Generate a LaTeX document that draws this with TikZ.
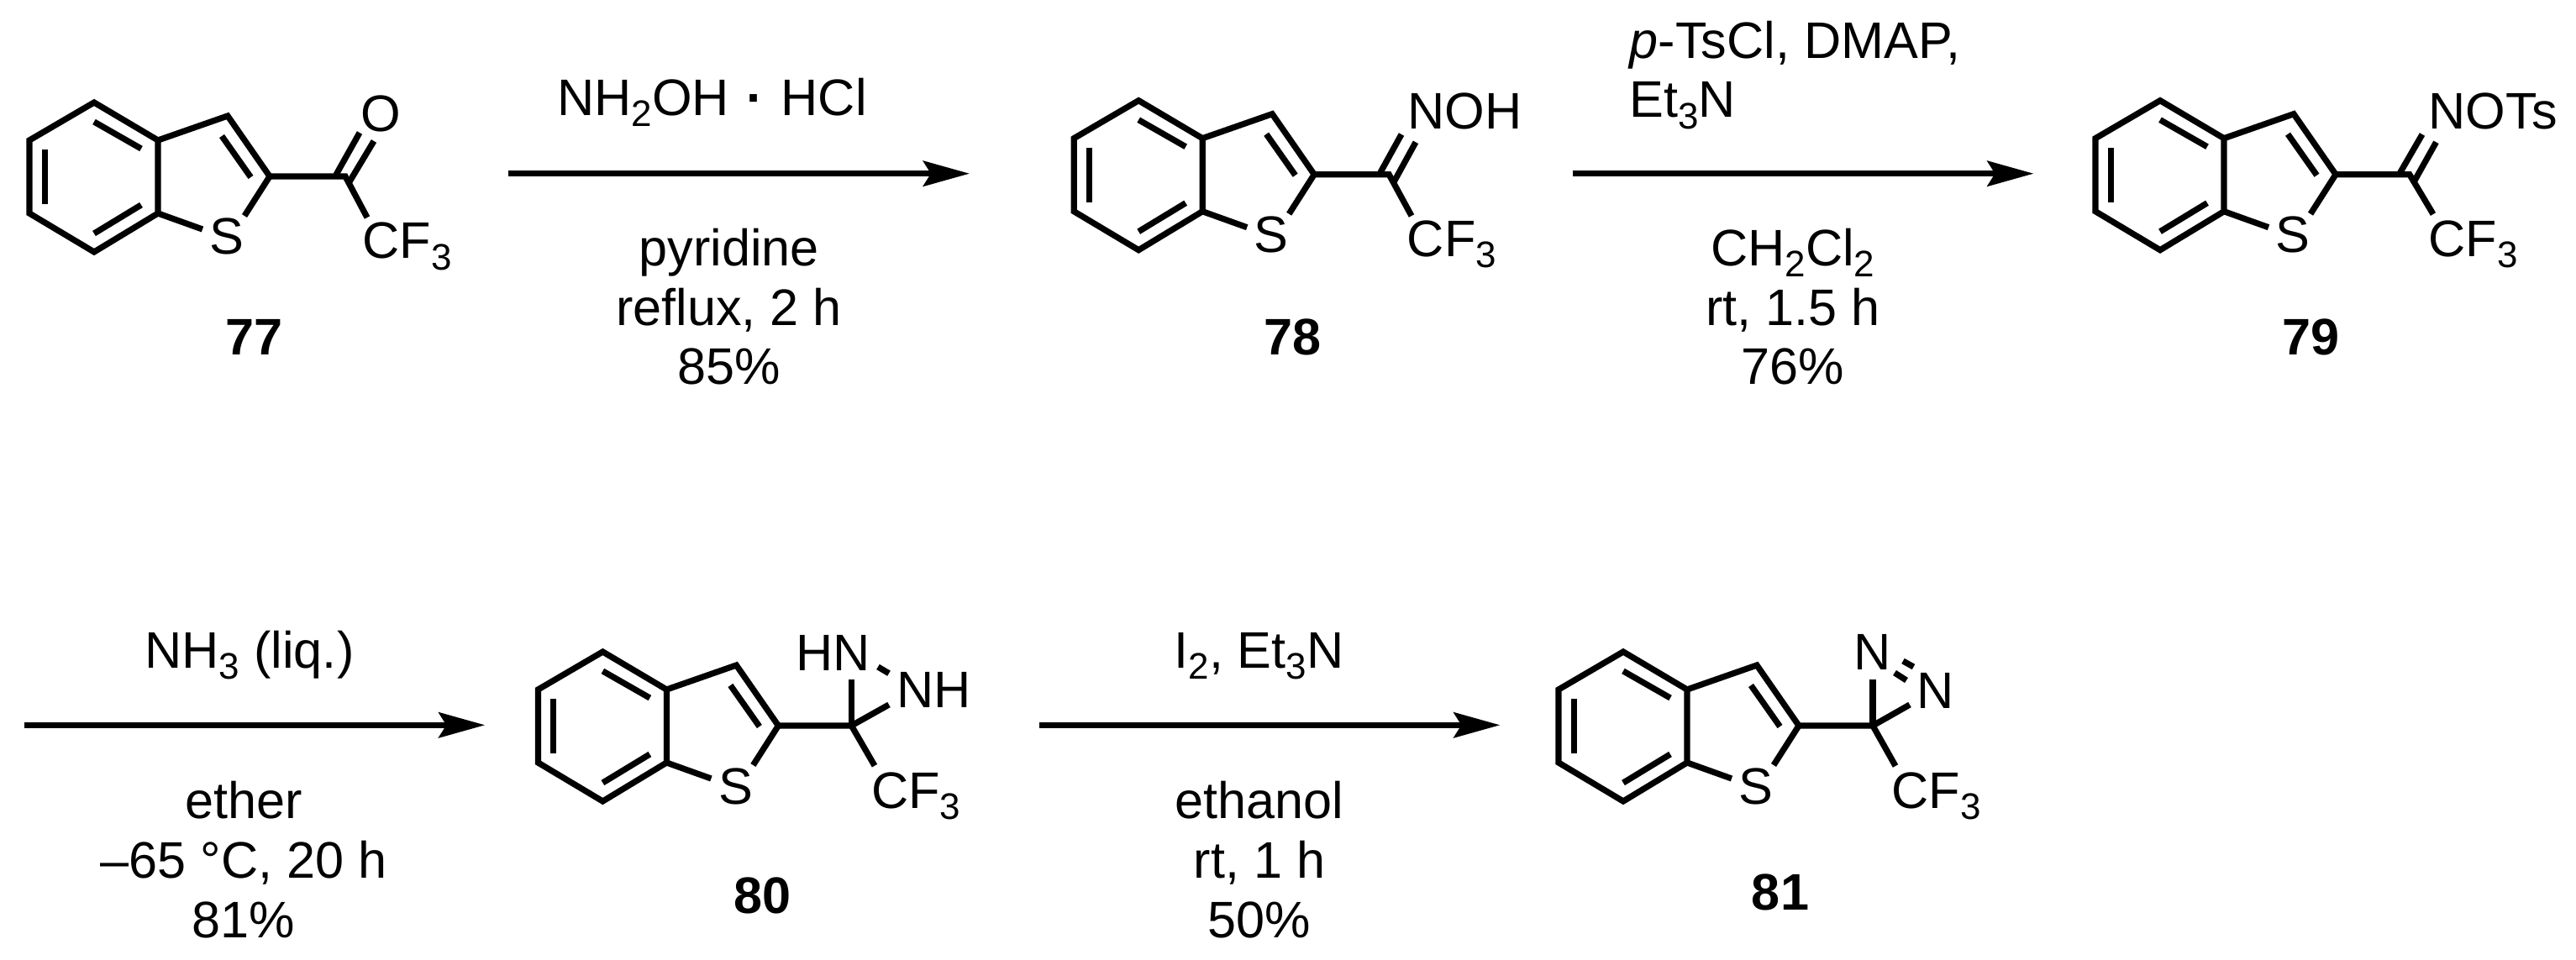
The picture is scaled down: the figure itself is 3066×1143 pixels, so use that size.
\documentclass[tikz,border=0pt]{standalone}
\usepackage{fontspec}
\setmainfont{Liberation Sans}
\usetikzlibrary{arrows.meta}
\tikzset{
	bond/.style={line width=2.05pt, line join=miter},
	rxn/.style={line width=2.1pt, -{Stealth[length=0.55cm, width=0.3cm, inset=0.09cm]}},
	atom/.style={inner sep=0pt, anchor=base},
	tag/.style={inner sep=0pt, anchor=base, font=\fontsize{17.4}{20}\selectfont\bfseries},
	cond/.style={inner sep=0pt, anchor=base, align=center}
}
\newcommand{\lowidx}[1]{\raisebox{-3.7pt}{\fontsize{12.5}{12.5}\selectfont #1}}
\def\thienyl(#1,#2)#3{
	\begin{scope}[shift={(#1,#2)}]
		\draw[bond] (-133,-43) -- (-209,-88) -- (-286,-43) -- (-286,44) -- (-209,90) -- (-133,44) -- cycle;
		\draw[bond] (-133,-43) -- (-50,-72) -- (0,0) -- (-30,47);
		\draw[bond] (-133,44) -- (-80,63);
		\draw[bond] (-267.6,-32) -- (-267.6,33);
		\draw[bond] (-209,-65) -- (-153,-33);
		\draw[bond] (-209,68) -- (-153,34);
		\draw[bond] (-57,-48) -- (-22.5,1);
		\node[atom] (#3S) at (-51,93) {S};
		\node[atom, anchor=base west] (#3CF) at (110,98) {CF\lowidx{3}};
	\end{scope}
}
\begin{document}
\begin{tikzpicture}[x=0.01cm, y=-0.01cm, font=\fontsize{17.4}{20.06}\selectfont]
			%%%%% START %%%%%
			\useasboundingbox (0,0) rectangle (3066,1143);
			
			\thienyl(321,210){ketone}
			\draw[bond] (321,210) -- (411,210) -- (437,259);
			\draw[bond] (400,208) -- (428,158);
			\draw[bond] (415,218) -- (445,168);
			\node[atom] (ketoneO) at (453,157) {O};
			\node[tag] (tag77) at (303,423) {77};
			
			\coordinate (r1a) at (604.5,206.7);
			\coordinate (r1b) at (1154,206.7);
			\draw[rxn] (r1a) -- (r1b);
			\node[atom] (r1top) at (847.5,137.7) {NH\lowidx{2}OH\hspace{5.9pt}\textbf{·}\hspace{5.9pt}HCl};
			\node[cond] (r1low) at (867.6,458) {pyridine\\reflux, 2 h\\85\%};
			
			\thienyl(1564.2,207.7){oxime}
			\draw[bond] (1564.2,207.7) -- (1653.2,207.7) -- (1680,257);
			\draw[bond] (1642.2,206.7) -- (1668,160);
			\draw[bond] (1659,216.7) -- (1685,169.3);
			\node[atom, anchor=base west] (oximeN) at (1675,154) {NOH};
			\node[tag] (tag78) at (1538.5,423) {78};
			
			\coordinate (r2a) at (1871.6,206.7);
			\coordinate (r2b) at (2420.5,206.7);
			\draw[rxn] (r2a) -- (r2b);
			\node[atom, anchor=base west, align=left] (r2top) at (1939,140) {\textit{p}-TsCl, DMAP,\\Et\lowidx{3}N};
			\node[cond] (r2low) at (2133.8,458) {CH\lowidx{2}Cl\lowidx{2}\\rt, 1.5 h\\76\%};
			
			\thienyl(2780,207.7){tosyl}
			\draw[bond] (2780,207.7) -- (2867.8,207.7) -- (2896,255);
			\draw[bond] (2856,206.7) -- (2883,160);
			\draw[bond] (2873,216.7) -- (2899.5,169.3);
			\node[atom, anchor=base west] (tosylN) at (2890,154) {NOTs};
			\node[tag] (tag79) at (2750,423) {79};
			
			\coordinate (r3a) at (29,863.3);
			\coordinate (r3b) at (577.3,863.3);
			\draw[rxn] (r3a) -- (r3b);
			\node[atom] (r3top) at (297,795) {NH\lowidx{3} (liq.)};
			\node[cond] (r3low) at (290,1116) {ether\\–65 °C, 20 h\\81\%};
			
			\thienyl(926.4,864){aziridine}
			\draw[bond] (926.4,864) -- (1013.4,864) -- (1041,911.7);
			\draw[bond] (1013.4,864) -- (1013.4,809);
			\draw[bond] (1013.4,864) -- (1058,839);
			\draw[bond] (1045,794) -- (1058,801.7);
			\node[atom] (aziridineHN) at (991.7,798) {HN};
			\node[atom] (aziridineNH) at (1111.5,842.7) {NH};
			\node[tag] (tag80) at (907.5,1087) {80};
			
			\coordinate (r4a) at (1237,863.3);
			\coordinate (r4b) at (1785.4,863.3);
			\draw[rxn] (r4a) -- (r4b);
			\node[atom] (r4top) at (1498.5,795) {I\lowidx{2}, Et\lowidx{3}N};
			\node[cond] (r4low) at (1499,1116) {ethanol\\rt, 1 h\\50\%};
			
			\thienyl(2141,864){diazirine}
			\draw[bond] (2141,864) -- (2229,864) -- (2256,912);
			\draw[bond] (2229,864) -- (2229,809);
			\draw[bond] (2229,864) -- (2273,839);
			\draw[bond] (2265,787) -- (2277.5,794);
			\draw[bond] (2255,801) -- (2269,810);
			\node[atom] (diazirineNa) at (2228.7,797) {N};
			\node[atom] (diazirineNb) at (2304,843) {N};
			\node[tag] (tag81) at (2119,1083) {81};
			
			%%%%% END %%%%%
\end{tikzpicture}
\end{document}
